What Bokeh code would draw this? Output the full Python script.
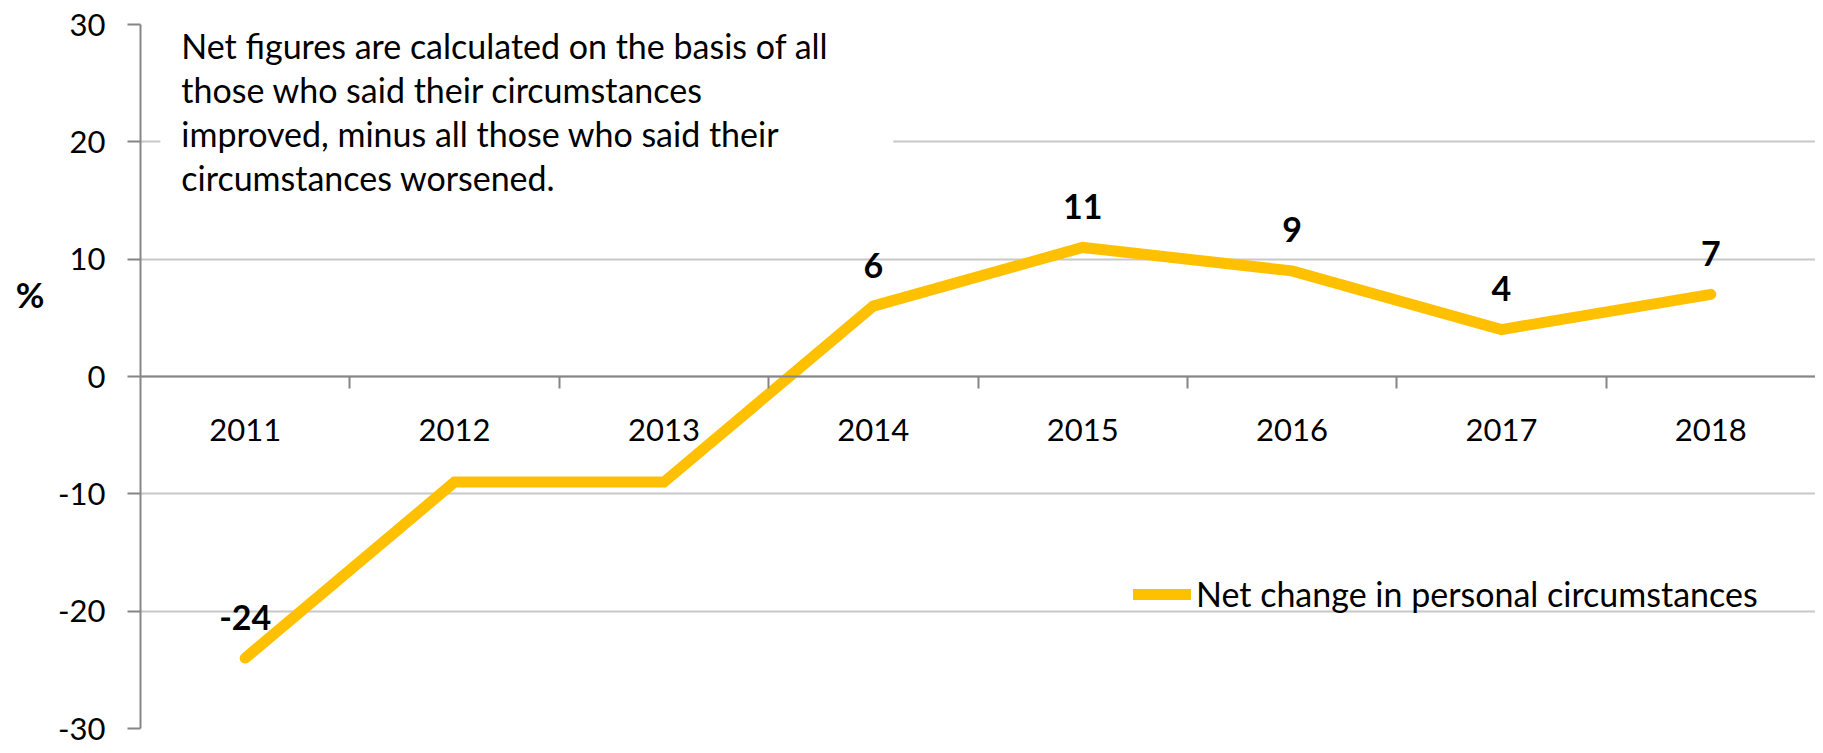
from bokeh.plotting import figure
from bokeh.models import Range1d, LinearAxis, FixedTicker, Label, BoxAnnotation, ColumnDataSource
from bokeh.core.properties import value
from bokeh.embed import file_html
from bokeh.resources import INLINE

years = ["2011", "2012", "2013", "2014", "2015", "2016", "2017", "2018"]
net_change = [-24, -9, -9, 6, 11, 9, 4, 7]
# data labels shown in the reference (2012 and 2013 are unlabelled)
point_labels = ["-24", "", "", "6", "11", "9", "4", "7"]
series_name = "Net change in personal circumstances"
unit_label = "%"
note_lines = [
    "Net figures are calculated on the basis of all",
    "those who said their circumstances",
    "improved, minus all those who said their",
    "circumstances worsened.",
]
y_ticks = [-30, -20, -10, 0, 10, 20, 30]

FONT = "Lato"
FS_TICK = "31px"
FS_TEXT = "34px"
AXIS_GRAY = "#868686"
GRID_GRAY = "#C8C8C8"
GOLD = "#FFC000"

n = len(years)
xs = [i + 0.5 for i in range(n)]
src = ColumnDataSource(dict(x=xs, y=net_change, lab=point_labels))

p = figure(width=1815, height=745, output_backend="svg", toolbar_location=None,
           x_range=Range1d(0, n), y_range=Range1d(-30, 30),
           x_axis_type=None, y_axis_location="left",
           min_border_left=140, min_border_top=24, min_border_right=0, min_border_bottom=17)
p.outline_line_color = None
p.background_fill_color = "white"

# y axis
ya = p.yaxis[0]
ya.ticker = FixedTicker(ticks=y_ticks)
ya.major_label_overrides = {t: str(t) for t in y_ticks}
ya.axis_line_color = AXIS_GRAY
ya.axis_line_width = 2
ya.major_tick_line_color = AXIS_GRAY
ya.major_tick_line_width = 2
ya.major_tick_out = 13
ya.major_tick_in = 0
ya.minor_tick_line_color = None
ya.major_label_standoff = 22
ya.major_label_text_font = FONT
ya.major_label_text_font_size = FS_TICK
ya.major_label_text_color = "black"

# "%" unit label, drawn as the single label of an extra bare axis on the left
ua = LinearAxis(ticker=FixedTicker(ticks=[7]))
ua.major_label_overrides = {7: unit_label}
ua.axis_line_color = None
ua.major_tick_line_color = None
ua.minor_tick_line_color = None
ua.major_tick_out = 0
ua.major_tick_in = 0
ua.major_label_standoff = 11
ua.major_label_text_font = FONT
ua.major_label_text_font_size = "35px"
ua.major_label_text_font_style = "bold"
ua.major_label_text_color = "black"
p.add_layout(ua, "left")

p.ygrid.ticker = FixedTicker(ticks=y_ticks)
p.ygrid.grid_line_color = GRID_GRAY
p.ygrid.grid_line_width = 2
p.xgrid.grid_line_color = None

# x axis at zero: boundary ticks between categories
xb = LinearAxis(fixed_location=0, ticker=FixedTicker(ticks=list(range(1, n))))
xb.axis_line_color = AXIS_GRAY
xb.axis_line_width = 2
xb.major_tick_line_color = AXIS_GRAY
xb.major_tick_line_width = 2
xb.major_tick_out = 12
xb.major_tick_in = 0
xb.minor_tick_line_color = None
xb.major_label_text_font_size = "0px"
xb.major_label_text_color = None
p.add_layout(xb, "below")

# x axis labels at category centres
xl = LinearAxis(fixed_location=0, ticker=FixedTicker(ticks=xs))
xl.major_label_overrides = {x: y for x, y in zip(xs, years)}
xl.axis_line_color = None
xl.major_tick_line_color = None
xl.minor_tick_line_color = None
xl.major_tick_out = 12
xl.major_label_standoff = 30
xl.major_label_text_font = FONT
xl.major_label_text_font_size = FS_TICK
xl.major_label_text_color = "black"
p.add_layout(xl, "below")

# note box (white background hides grid lines)
box = BoxAnnotation(left=0.095, right=3.595, bottom=15.2, top=31,
                    fill_color="white", fill_alpha=1.0, line_color=None, level="underlay")
p.add_layout(box)

p.line("x", "y", source=src, line_color=GOLD, line_width=11,
       line_cap="round", line_join="miter", legend_label=series_name)

p.text("x", "y", text="lab", source=src, y_offset=-41, text_align="center",
       text_baseline="alphabetic", text_font=value(FONT), text_font_style="bold",
       text_font_size=FS_TEXT, text_color="black")

note = Label(x=0.195, y=30.0, text="\n".join(note_lines), text_font=FONT,
             text_font_size=FS_TEXT, text_color="black", text_baseline="top",
             text_align="left", text_line_height=1.08)
p.add_layout(note)

lg = p.legend[0]
lg.location = (993, 114)
lg.background_fill_alpha = 0
lg.border_line_color = None
lg.padding = 0
lg.margin = 0
lg.spacing = 0
lg.glyph_width = 58
lg.glyph_height = 20
lg.label_standoff = 5
lg.label_text_font = FONT
lg.label_text_font_size = FS_TEXT
lg.label_text_color = "black"

open("out.html", "w").write(file_html(p, INLINE))
